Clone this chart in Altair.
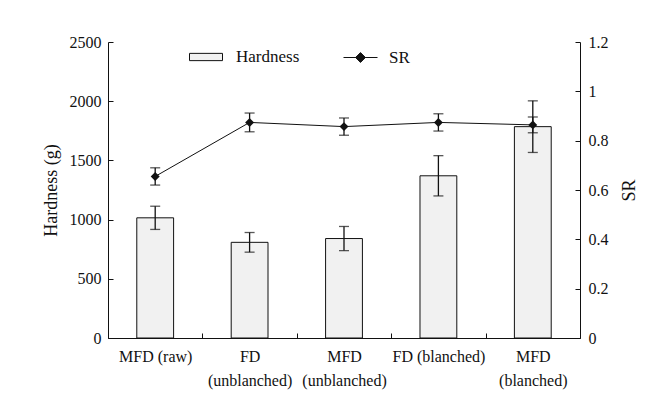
import altair as alt
import pandas as pd

categories = ["MFD (raw)", "FD|(unblanched)", "MFD|(unblanched)", "FD (blanched)", "MFD|(blanched)"]
hardness = [1015, 808, 840, 1370, 1785]
hardness_err = [98, 83, 102, 170, 218]
sr = [0.655, 0.874, 0.857, 0.874, 0.864]
sr_err = [0.035, 0.038, 0.035, 0.035, 0.032]

df = pd.DataFrame({
    "cat": categories,
    "hardness": hardness,
    "h_err": hardness_err,
    "sr": sr,
    "sr_err": sr_err,
})

FONT = "Liberation Serif, Times New Roman, DejaVu Serif, serif"
INK = "#111111"

base = alt.Chart(df).transform_calculate(
    h_lo="datum.hardness - datum.h_err",
    h_hi="datum.hardness + datum.h_err",
    s_lo="datum.sr - datum.sr_err",
    s_hi="datum.sr + datum.sr_err",
    hleg="'Hardness'",
    sleg="'SR'",
)

x_scale = alt.Scale(domain=categories, paddingInner=0, paddingOuter=0)
x_axis = alt.Axis(
    title=None,
    labelAngle=0,
    labelExpr="isValid(datum.value) ? split(datum.value, '|') : ''",
    tickBand="extent",
    tickSize={"expr": "-5"},
    labelPadding=15,
    labelLineHeight=24,
    labelFontSize=16,
    labelFont=FONT,
    labelColor=INK,
    domainColor=INK,
    tickColor=INK,
    labelBaseline="top",
)


def xe():
    return alt.X("cat:N", sort=categories, scale=x_scale, axis=x_axis)


h_scale = alt.Scale(domain=[0, 2500], nice=False)
left_axis = alt.Axis(
    orient="left",
    title="Hardness (g)",
    values=[0, 500, 1000, 1500, 2000, 2500],
    format="d",
    tickSize={"expr": "-5"},
    labelPadding=12,
    titlePadding=9,
    grid=False,
    labelFont=FONT,
    labelFontSize=16,
    labelColor=INK,
    titleFont=FONT,
    titleFontSize=18,
    titleFontWeight="normal",
    titleColor=INK,
    domainColor=INK,
    tickColor=INK,
)

bars = base.mark_bar(width={"band": 0.39}, stroke=INK, strokeWidth=1).encode(
    x=xe(),
    y=alt.Y("hardness:Q", scale=h_scale, axis=left_axis),
    fill=alt.Fill(
        "hleg:N",
        scale=alt.Scale(domain=["Hardness"], range=["#f1f1f1"]),
        legend=alt.Legend(
            title=None,
            orient="none",
            legendX=81,
            legendY=-2,
            padding=0,
            symbolType="M-1,-0.22H1V0.22H-1Z",
            symbolSize=1089,
            symbolStrokeColor=INK,
            symbolStrokeWidth=1,
            labelFont=FONT,
            labelFontSize=17,
            labelColor=INK,
            labelOffset=13,
        ),
    ),
)
h_rule = base.mark_rule(color=INK, strokeWidth=1.3).encode(
    x=xe(), y=alt.Y("h_lo:Q", scale=h_scale), y2="h_hi:Q"
)
h_lo_tick = base.mark_tick(color=INK, size=10, thickness=1.3).encode(
    x=xe(), y=alt.Y("h_lo:Q", scale=h_scale)
)
h_hi_tick = base.mark_tick(color=INK, size=10, thickness=1.3).encode(
    x=xe(), y=alt.Y("h_hi:Q", scale=h_scale)
)
left = alt.layer(bars, h_rule, h_lo_tick, h_hi_tick)

s_scale = alt.Scale(domain=[0, 1.2], nice=False)
right_axis = alt.Axis(
    orient="right",
    title="SR",
    values=[0, 0.2, 0.4, 0.6, 0.8, 1.0, 1.2],
    format="~g",
    tickSize={"expr": "-5"},
    labelPadding=13,
    titlePadding=30,
    titleAngle=270,
    grid=False,
    labelFont=FONT,
    labelFontSize=16,
    labelColor=INK,
    titleFont=FONT,
    titleFontSize=18,
    titleFontWeight="normal",
    titleColor=INK,
    domainColor=INK,
    tickColor=INK,
)

line = base.mark_line(strokeWidth=1).encode(
    x=xe(),
    y=alt.Y("sr:Q", scale=s_scale, axis=right_axis),
    stroke=alt.Stroke(
        "sleg:N",
        scale=alt.Scale(domain=["SR"], range=[INK]),
        legend=alt.Legend(
            title=None,
            orient="none",
            legendX=235,
            legendY=-2,
            padding=0,
            symbolType="M-1,0H1M0,-0.29L0.29,0L0,0.29L-0.29,0Z",
            symbolSize=1156,
            symbolFillColor=INK,
            symbolStrokeWidth=1,
            labelFont=FONT,
            labelFontSize=17,
            labelColor=INK,
            labelOffset=11,
        ),
    ),
)
s_rule = base.mark_rule(color=INK, strokeWidth=1.3).encode(
    x=xe(), y=alt.Y("s_lo:Q", scale=s_scale), y2="s_hi:Q"
)
s_lo_tick = base.mark_tick(color=INK, size=10, thickness=1.3).encode(
    x=xe(), y=alt.Y("s_lo:Q", scale=s_scale)
)
s_hi_tick = base.mark_tick(color=INK, size=10, thickness=1.3).encode(
    x=xe(), y=alt.Y("s_hi:Q", scale=s_scale)
)
pts = base.mark_point(shape="diamond", filled=True, size=80, color=INK, opacity=1).encode(
    x=xe(), y=alt.Y("sr:Q", scale=s_scale)
)
right = alt.layer(line, s_rule, s_lo_tick, s_hi_tick, pts)

chart = (
    alt.layer(left, right)
    .resolve_scale(y="independent", fill="independent", stroke="independent")
    .properties(
        width=472,
        height=296,
        autosize=alt.AutoSizeParams(type="none"),
        padding={"left": 100, "top": 34, "right": 70, "bottom": 56},
        background="white",
    )
    .configure_view(stroke=None)
)

chart.save("out.html", embed_options={"renderer": "svg", "actions": False})
